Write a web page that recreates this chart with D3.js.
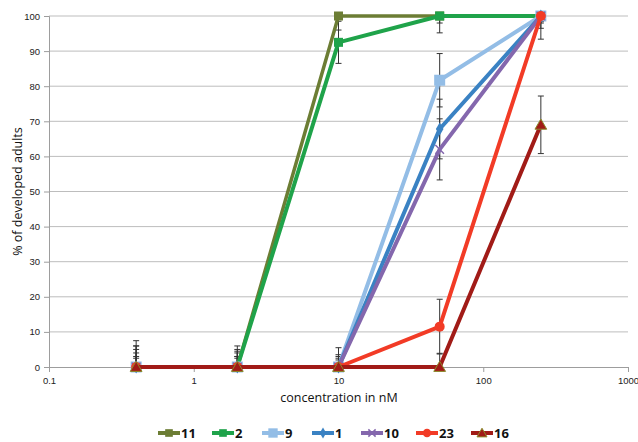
<!DOCTYPE html>
<html>
<head>
<meta charset="utf-8">
<script src="https://cdn.jsdelivr.net/npm/d3@7"></script>
<style>
  body { margin: 0; background: #fff; }
  svg { font-family: "Open Sans", "DejaVu Sans", sans-serif; }
</style>
</head>
<body>
<div class="chart"></div>
<script>
const concentrations = [0.4, 2, 10, 50, 250];
const seriesNames = ["11", "2", "9", "1", "10", "23", "16"];
const values11 = [0, 0, 100, 100, 100];
const values2 = [0, 0, 92.5, 100, 100];
const values9 = [0, 0, 0, 81.7, 100];
const values1 = [0, 0, 0, 67.8, 100];
const values10 = [0, 0, 0, 62, 100];
const values23 = [0, 0, 0, 11.5, 100];
const values16 = [0, 0, 0, 0, 69];
const errors11 = [7.5, 6, 4, 2, 1.5];
const errors2 = [6, 5, 6, 4.8, 3.5];
const errors9 = [5, 4, 3.5, 7.6, 6.6];
const errors1 = [4, 3, 5.5, 8.5, 1.6];
const errors10 = [3, 2.5, 3, 8.7, 2];
const errors23 = [6, 4.5, 2.5, 7.8, 1];
const errors16 = [2.5, 3, 2, 3.9, 8.2];
const xTicks = [0.1, 1, 10, 100, 1000];
const yTicks = [0, 10, 20, 30, 40, 50, 60, 70, 80, 90, 100];

const colors = ["#6c7d34", "#1fa34a", "#93bde6", "#3a82c3", "#8467ad", "#f23b26", "#a11b17"];
const shapes = ["square", "square", "bigsquare", "diamond", "cross", "circle", "triangle"];
const allValues = [values11, values2, values9, values1, values10, values23, values16];
const allErrors = [errors11, errors2, errors9, errors1, errors10, errors23, errors16];

const w = 638;
const h = 442;
const plotLeft = 49, plotRight = 628, plotTop = 16, plotBottom = 367;

const x = d3.scaleLog().domain([0.1, 1000]).range([plotLeft, plotRight]);
const y = d3.scaleLinear().domain([0, 100]).range([plotBottom, plotTop]);

const svg = d3.select(".chart")
    .append("svg")
    .attr("width", w)
    .attr("height", h);

// grid lines
svg.append("g")
    .selectAll("line")
    .data(yTicks.filter(d => d > 0))
    .enter()
    .append("line")
    .attr("x1", plotLeft)
    .attr("x2", plotRight)
    .attr("y1", d => y(d))
    .attr("y2", d => y(d))
    .attr("stroke", "#bdbdbd")
    .attr("stroke-width", 1);

// axes
const xAxis = svg.append("g")
    .attr("transform", `translate(0,${plotBottom})`)
    .call(d3.axisBottom(x).tickValues(xTicks).tickFormat(d => String(d)).tickSize(5).tickPadding(5));
const yAxis = svg.append("g")
    .attr("transform", `translate(${plotLeft},0)`)
    .call(d3.axisLeft(y).tickValues(yTicks).tickSize(5).tickPadding(4));
[xAxis, yAxis].forEach(g => {
    g.selectAll("path, line").attr("stroke", "#9d9d9d");
    g.selectAll("text").attr("fill", "#222").attr("font-size", 9.5);
});

svg.append("defs").append("clipPath")
    .attr("id", "plot")
    .append("rect")
    .attr("x", plotLeft)
    .attr("y", plotTop)
    .attr("width", plotRight - plotLeft)
    .attr("height", plotBottom - plotTop);

// error bars
const errG = svg.append("g").attr("clip-path", "url(#plot)");
allValues.forEach((vals, s) => {
    vals.forEach((v, i) => {
        const e = allErrors[s][i];
        const cx = x(concentrations[i]);
        errG.append("line")
            .attr("x1", cx).attr("x2", cx)
            .attr("y1", y(v + e)).attr("y2", y(v - e))
            .attr("stroke", "#333").attr("stroke-width", 1);
        [v + e, v - e].forEach(t => {
            errG.append("line")
                .attr("x1", cx - 3).attr("x2", cx + 3)
                .attr("y1", y(t)).attr("y2", y(t))
                .attr("stroke", "#333").attr("stroke-width", 1);
        });
    });
});

const line = d3.line()
    .x((d, i) => x(concentrations[i]))
    .y(d => y(d));

function drawMarker(g, shape, color, cx, cy, scale) {
    const k = scale || 1;
    if (shape === "square" || shape === "bigsquare") {
        const s = (shape === "bigsquare" ? 11 : 9) * k;
        g.append("rect")
            .attr("x", cx - s / 2).attr("y", cy - s / 2)
            .attr("width", s).attr("height", s)
            .attr("fill", color);
    } else if (shape === "diamond") {
        g.append("path")
            .attr("d", d3.symbol().type(d3.symbolDiamond).size(50 * k * k)())
            .attr("transform", `translate(${cx},${cy})`)
            .attr("fill", color);
    } else if (shape === "cross") {
        g.append("path")
            .attr("d", d3.symbol().type(d3.symbolTimes).size(50 * k * k)())
            .attr("transform", `translate(${cx},${cy})`)
            .attr("fill", "none")
            .attr("stroke", color)
            .attr("stroke-width", 1.5);
    } else if (shape === "circle") {
        g.append("circle")
            .attr("cx", cx).attr("cy", cy).attr("r", 5 * k)
            .attr("fill", color);
    } else if (shape === "triangle") {
        g.append("path")
            .attr("d", d3.symbol().type(d3.symbolTriangle).size(60 * k * k)())
            .attr("transform", `translate(${cx},${cy + 1})`)
            .attr("fill", color)
            .attr("stroke", "#8a8a2a")
            .attr("stroke-width", 1);
    }
}

// series lines and markers
allValues.forEach((vals, s) => {
    const g = svg.append("g");
    g.append("path")
        .datum(vals)
        .attr("d", line)
        .attr("fill", "none")
        .attr("stroke", colors[s])
        .attr("stroke-width", s === 0 ? 3.5 : 4)
        .attr("stroke-linejoin", "round");
    vals.forEach((v, i) => {
        drawMarker(g, shapes[s], colors[s], x(concentrations[i]), y(v));
    });
});

// axis titles
svg.append("text")
    .attr("text-anchor", "middle")
    .attr("font-size", 12.5)
    .attr("fill", "#111")
    .attr("transform", `translate(22, ${(plotTop + plotBottom) / 2}) rotate(-90)`)
    .text("% of developed adults");
svg.append("text")
    .attr("x", 339)
    .attr("y", 402)
    .attr("text-anchor", "middle")
    .attr("font-size", 12.5)
    .attr("fill", "#111")
    .text("concentration in nM");

// legend
const legendX = [158, 212, 262, 312, 361, 416, 471];
const legend = svg.append("g");
seriesNames.forEach((name, s) => {
    const lx = legendX[s];
    legend.append("line")
        .attr("x1", lx).attr("x2", lx + 22)
        .attr("y1", 433).attr("y2", 433)
        .attr("stroke", colors[s])
        .attr("stroke-width", 4);
    drawMarker(legend, shapes[s], colors[s], lx + 11, 433, 0.85);
    legend.append("text")
        .attr("x", lx + 23)
        .attr("y", 438)
        .attr("font-size", 13)
        .attr("font-weight", "bold")
        .attr("fill", "#111")
        .text(name);
});
</script>
</body>
</html>
